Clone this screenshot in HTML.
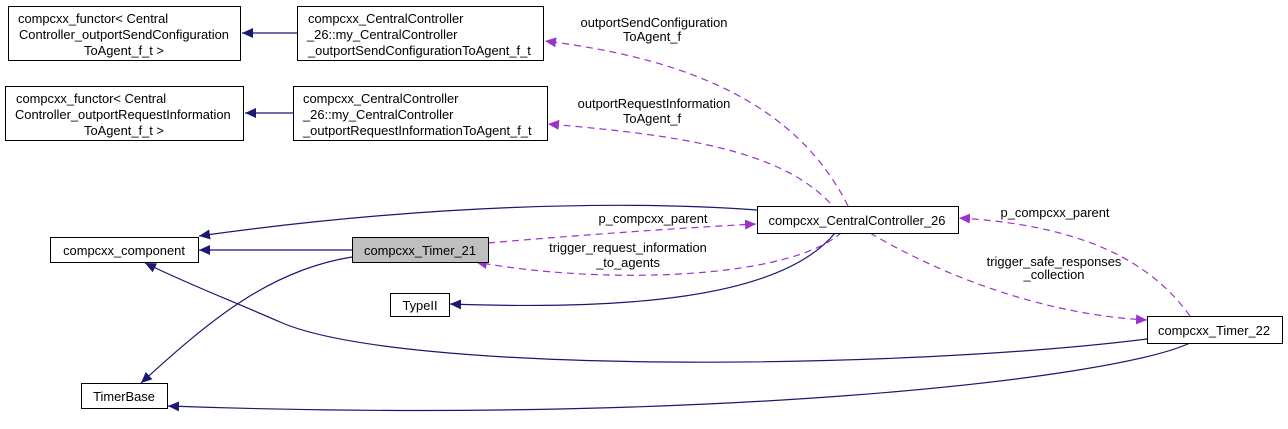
<!DOCTYPE html>
<html><head><meta charset="utf-8"><style>
html,body{margin:0;padding:0;background:#fff;}
svg{display:block;font-family:"Liberation Sans",Helvetica,Arial,sans-serif;font-size:12.9px;}
</style></head><body>
<svg width="1288" height="429" viewBox="0 0 1288 429" xmlns="http://www.w3.org/2000/svg">
<defs>
<marker id="an" markerWidth="12" markerHeight="10" refX="11" refY="5" orient="auto" markerUnits="userSpaceOnUse"><path d="M0,0 L11,5 L0,10 z" fill="#191970"/></marker>
<marker id="ap" markerWidth="12" markerHeight="10" refX="11" refY="5" orient="auto" markerUnits="userSpaceOnUse"><path d="M0,0 L11,5 L0,10 z" fill="#9a32cd"/></marker>
</defs>
<g fill="none" stroke="#191970" stroke-width="1.2">
<path d="M297,33 L242,33" marker-end="url(#an)"/>
<path d="M293,113 L245,113" marker-end="url(#an)"/>
<path d="M757,210 C620,200 420,205 199,236" marker-end="url(#an)"/>
<path d="M352,250 L199,250" marker-end="url(#an)"/>
<path d="M352,257 C270,270 210,320 141,383" marker-end="url(#an)"/>
<path d="M835,233 C780,300 620,310 450,304" marker-end="url(#an)"/>
<path d="M1147,339 C900,370 400,375 280,322 C230,300 190,285 145,263" marker-end="url(#an)"/>
<path d="M1190,343 C1110,380 700,425 168,406" marker-end="url(#an)"/>
</g>
<g fill="none" stroke="#9a32cd" stroke-width="1.2" stroke-dasharray="7,5">
<path d="M848,206 C800,110 700,60 545,41" marker-end="url(#ap)"/>
<path d="M830,203 C780,150 680,135 548,124" marker-end="url(#ap)"/>
<path d="M488,243 C580,235 680,228 756,224" marker-end="url(#ap)"/>
<path d="M842,232 C790,280 600,285 476,262" marker-end="url(#ap)"/>
<path d="M1190,316 C1150,260 1080,225 959,218" marker-end="url(#ap)"/>
<path d="M870,233 C950,280 1050,315 1147,320" marker-end="url(#ap)"/>
</g>
<g stroke="#000" stroke-width="1" fill="#fff">
<rect x="8.5" y="6.5" width="232" height="54"/>
<rect x="297.5" y="6.5" width="246" height="54"/>
<rect x="5.5" y="86.5" width="238" height="54"/>
<rect x="293.5" y="86.5" width="254" height="54"/>
<rect x="50.5" y="237.5" width="148" height="25"/>
<rect x="352.5" y="237.5" width="136" height="25" fill="#bfbfbf"/>
<rect x="757.5" y="206.5" width="201" height="27"/>
<rect x="390.5" y="293.5" width="59" height="23"/>
<rect x="81.5" y="383.5" width="86" height="25"/>
<rect x="1147.5" y="316.5" width="135" height="27"/>
</g>
<g fill="#000">
<text x="18" y="23">compcxx_functor&lt; Central</text>
<text x="19" y="39">Controller_outportSendConfiguration</text>
<text x="124" y="55" text-anchor="middle">ToAgent_f_t &gt;</text>
<text x="308" y="23">compcxx_CentralController</text>
<text x="307" y="39">_26::my_CentralController</text>
<text x="308" y="55">_outportSendConfigurationToAgent_f_t</text>
<text x="16" y="103">compcxx_functor&lt; Central</text>
<text x="15" y="119">Controller_outportRequestInformation</text>
<text x="124" y="135" text-anchor="middle">ToAgent_f_t &gt;</text>
<text x="303" y="103">compcxx_CentralController</text>
<text x="303" y="119">_26::my_CentralController</text>
<text x="303" y="135">_outportRequestInformationToAgent_f_t</text>
<text x="124" y="255" text-anchor="middle">compcxx_component</text>
<text x="420" y="255" text-anchor="middle">compcxx_Timer_21</text>
<text x="857" y="225" text-anchor="middle">compcxx_CentralController_26</text>
<text x="420" y="310" text-anchor="middle">TypeII</text>
<text x="124" y="401" text-anchor="middle">TimerBase</text>
<text x="1214" y="335" text-anchor="middle">compcxx_Timer_22</text>
<text x="654" y="27" text-anchor="middle">outportSendConfiguration</text>
<text x="652" y="41" text-anchor="middle">ToAgent_f</text>
<text x="654" y="108" text-anchor="middle">outportRequestInformation</text>
<text x="652" y="123" text-anchor="middle">ToAgent_f</text>
<text x="653" y="223" text-anchor="middle">p_compcxx_parent</text>
<text x="628" y="252" text-anchor="middle">trigger_request_information</text>
<text x="628" y="267" text-anchor="middle">_to_agents</text>
<text x="1055" y="217" text-anchor="middle">p_compcxx_parent</text>
<text x="1054" y="266" text-anchor="middle">trigger_safe_responses</text>
<text x="1054" y="279" text-anchor="middle">_collection</text>
</g>
</svg>
</body></html>
